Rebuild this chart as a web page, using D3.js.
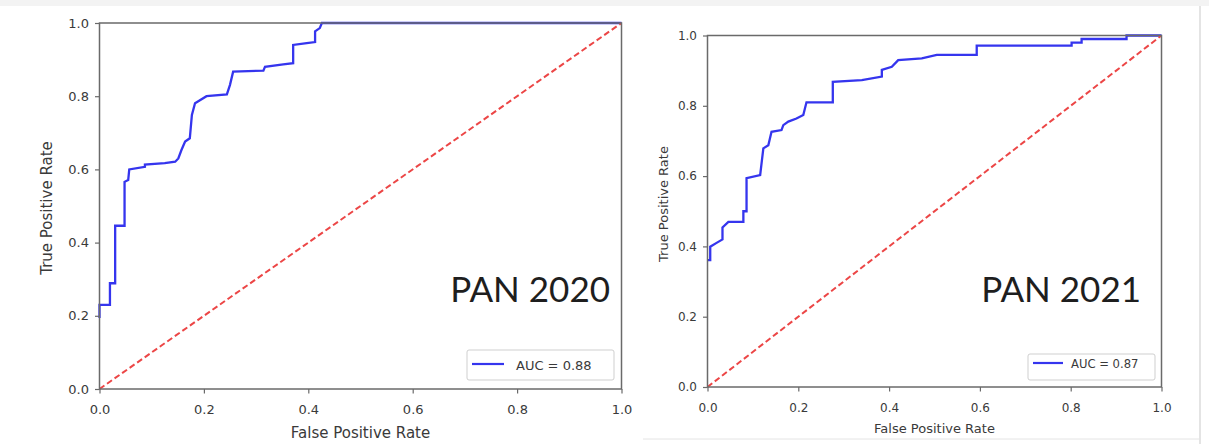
<!DOCTYPE html>
<html>
<head>
<meta charset="utf-8">
<script src="https://cdn.jsdelivr.net/npm/d3@7/dist/d3.min.js"></script>
<style>
  html, body { margin: 0; padding: 0; background: #fff; }
  svg { display: block; }
</style>
</head>
<body>
<svg id="chart" width="1209" height="444"></svg>
<script>
// ROC curve of the 2020 model (false positive rate / true positive rate)
const fpr2020 = [0.000, 0.000, 0.020, 0.020, 0.030, 0.030, 0.048, 0.048, 0.055, 0.057,
                 0.087, 0.087, 0.125, 0.145, 0.151, 0.157, 0.164, 0.173, 0.177, 0.183,
                 0.205, 0.244, 0.250, 0.256, 0.314, 0.317, 0.352, 0.371, 0.371, 0.397,
                 0.413, 0.413, 0.422, 0.426, 1.000];
const tpr2020 = [0.194, 0.230, 0.230, 0.289, 0.289, 0.446, 0.446, 0.566, 0.571, 0.600,
                 0.607, 0.613, 0.617, 0.621, 0.630, 0.653, 0.676, 0.685, 0.749, 0.781,
                 0.800, 0.805, 0.831, 0.867, 0.870, 0.880, 0.887, 0.890, 0.940, 0.945,
                 0.948, 0.977, 0.986, 1.000, 1.000];

// ROC curve of the 2021 model
const fpr2021 = [0.000, 0.006, 0.006, 0.020, 0.033, 0.033, 0.046, 0.079, 0.079,
                 0.086, 0.086, 0.116, 0.123, 0.134, 0.141, 0.163, 0.167, 0.178, 0.196,
                 0.211, 0.218, 0.276, 0.276, 0.340, 0.384, 0.384, 0.406, 0.420, 0.472,
                 0.505, 0.593, 0.593, 0.802, 0.802, 0.824, 0.824, 0.923, 0.923, 1.000];
const tpr2021 = [0.361, 0.361, 0.399, 0.410, 0.420, 0.454, 0.470, 0.470, 0.500,
                 0.500, 0.594, 0.603, 0.679, 0.688, 0.726, 0.731, 0.745, 0.755, 0.764,
                 0.774, 0.810, 0.810, 0.868, 0.873, 0.883, 0.902, 0.911, 0.930, 0.935,
                 0.945, 0.945, 0.971, 0.971, 0.980, 0.980, 0.990, 0.990, 1.000, 1.000];

// Chance diagonal
const chanceX = [0, 1];
const chanceY = [0, 1];

// Axis ticks and labels
const tickValues = [0, 0.2, 0.4, 0.6, 0.8, 1.0];
const tickLabels = ["0.0", "0.2", "0.4", "0.6", "0.8", "1.0"];

// Panel captions and legend values
const panelTitles = ["PAN 2020", "PAN 2021"];
const aucValues = [0.88, 0.87];
const xAxisTitle = "False Positive Rate";
const yAxisTitle = "True Positive Rate";

// Layout of each panel (pixels)
const panels = [
  {
    fpr: fpr2020, tpr: tpr2020, title: panelTitles[0], auc: aucValues[0],
    left: 99.5, right: 621.5, top: 23, bottom: 389,
    tickFont: 13, labelFont: 15,
    xTickBaseline: 414, xLabelBaseline: 438, yLabelX: 47, yLabelY: 208,
    titleX: 610, titleY: 302, titleFont: 35,
    legend: { x: 467, y: 350, w: 147, h: 30, lineX1: 472, lineX2: 504, lineY: 364, textX: 516, textY: 365.5, font: 13 }
  },
  {
    fpr: fpr2021, tpr: tpr2021, title: panelTitles[1], auc: aucValues[1],
    left: 707.5, right: 1161.5, top: 35.5, bottom: 387,
    tickFont: 12, labelFont: 13,
    xTickBaseline: 412, xLabelBaseline: 433, yLabelX: 663, yLabelY: 204,
    titleX: 1141, titleY: 302, titleFont: 35,
    legend: { x: 1028, y: 354, w: 127, h: 26, lineX1: 1033, lineX2: 1063, lineY: 363, textX: 1071, textY: 364, font: 11.6 }
  }
];

const svg = d3.select("#chart");

// Soft grey strip along the top edge and the frame of the right-hand figure
svg.append("rect").attr("x", 0).attr("y", 0).attr("width", 1209).attr("height", 6)
  .attr("fill", "#f3f3f3");
svg.append("line").attr("x1", 1200).attr("x2", 1200).attr("y1", 6).attr("y2", 444)
  .attr("stroke", "#d2d2d2").attr("stroke-width", 1.2);
svg.append("line").attr("x1", 643).attr("x2", 1200).attr("y1", 439).attr("y2", 439)
  .attr("stroke", "#e4e4e4").attr("stroke-width", 1);

const TEXT = "#3a3a3a";
const SPINE = "#6a6a6a";

panels.forEach(p => {
  const x = d3.scaleLinear().domain([0, 1]).range([p.left, p.right]);
  const y = d3.scaleLinear().domain([0, 1]).range([p.bottom, p.top]);
  const g = svg.append("g");

  const line = d3.line().x(d => x(d[0])).y(d => y(d[1]));

  // ROC curve
  g.append("path")
    .datum(d3.zip(p.fpr, p.tpr))
    .attr("d", line)
    .attr("fill", "none")
    .attr("stroke", "#3535ee")
    .attr("stroke-width", 2.3)
    .attr("stroke-linejoin", "miter");

  // Random-guess diagonal
  g.append("path")
    .datum(d3.zip(chanceX, chanceY))
    .attr("d", line)
    .attr("fill", "none")
    .attr("stroke", "#ec4646")
    .attr("stroke-width", 2)
    .attr("stroke-dasharray", "6,3.2");

  // Axes
  const fmt = d => tickLabels[tickValues.indexOf(d)];
  const xAxis = g.append("g")
    .attr("transform", `translate(0,${p.bottom})`)
    .call(d3.axisBottom(x).tickValues(tickValues).tickFormat(fmt).tickSize(4.5).tickPadding(3));
  const yAxis = g.append("g")
    .attr("transform", `translate(${p.left},0)`)
    .call(d3.axisLeft(y).tickValues(tickValues).tickFormat(fmt).tickSize(4.5).tickPadding(6));

  [xAxis, yAxis].forEach(a => {
    a.select(".domain").remove();
    a.selectAll(".tick line").attr("stroke", SPINE).attr("stroke-width", 1.2);
    a.selectAll(".tick text")
      .attr("fill", TEXT)
      .style("font-family", "'DejaVu Sans', sans-serif")
      .style("font-size", p.tickFont + "px");
  });
  xAxis.selectAll(".tick text").attr("dy", null)
    .attr("y", p.xTickBaseline - p.bottom);

  // Frame around the plotting area
  g.append("rect")
    .attr("x", p.left).attr("y", p.top)
    .attr("width", p.right - p.left).attr("height", p.bottom - p.top)
    .attr("fill", "none").attr("stroke", SPINE).attr("stroke-width", 1.5);

  // Axis titles
  g.append("text")
    .attr("x", (p.left + p.right) / 2).attr("y", p.xLabelBaseline)
    .attr("text-anchor", "middle")
    .attr("fill", TEXT)
    .style("font-family", "'DejaVu Sans', sans-serif")
    .style("font-size", p.labelFont + "px")
    .text(xAxisTitle);
  g.append("text")
    .attr("transform", `translate(${p.yLabelX},${p.yLabelY}) rotate(-90)`)
    .attr("text-anchor", "middle")
    .attr("dy", "0.35em")
    .attr("fill", TEXT)
    .style("font-family", "'DejaVu Sans', sans-serif")
    .style("font-size", p.labelFont + "px")
    .text(yAxisTitle);

  // Panel caption
  g.append("text")
    .attr("x", p.titleX).attr("y", p.titleY)
    .attr("text-anchor", "end")
    .attr("fill", "#1e1e1e")
    .style("font-family", "Lato, 'Open Sans', sans-serif")
    .style("font-size", p.titleFont + "px")
    .text(p.title);

  // Legend
  const L = p.legend;
  g.append("rect")
    .attr("x", L.x).attr("y", L.y).attr("width", L.w).attr("height", L.h)
    .attr("rx", 2).attr("fill", "#fff").attr("stroke", "#cfcfcf").attr("stroke-width", 1);
  g.append("line")
    .attr("x1", L.lineX1).attr("x2", L.lineX2).attr("y1", L.lineY).attr("y2", L.lineY)
    .attr("stroke", "#3535ee").attr("stroke-width", 2.2);
  g.append("text")
    .attr("x", L.textX).attr("y", L.textY).attr("dy", "0.35em")
    .attr("fill", TEXT)
    .style("font-family", "'DejaVu Sans', sans-serif")
    .style("font-size", L.font + "px")
    .text("AUC = " + p.auc.toFixed(2));
});
</script>
</body>
</html>
